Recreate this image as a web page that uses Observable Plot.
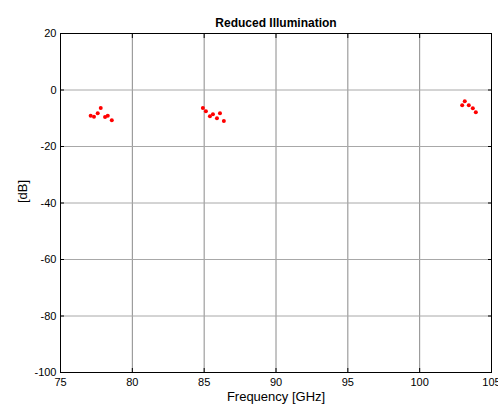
<!DOCTYPE html>
<html><head><meta charset="utf-8">
<script src="https://cdn.jsdelivr.net/npm/d3@7"></script>
<script src="https://cdn.jsdelivr.net/npm/@observablehq/plot@0.6"></script>
<style>body{margin:0;background:#fff}svg{display:block}</style>
</head><body><div id="chart"></div>
<script>
const freqGHz = [77.10, 77.33, 77.59, 77.80, 78.10, 78.29, 78.57,
                 84.91, 85.12, 85.40, 85.61, 85.89, 86.10, 86.37,
                 102.96, 103.14, 103.42, 103.70, 103.91];
const levelDb = [-9.1, -9.5, -8.2, -6.4, -9.6, -9.1, -10.7,
                 -6.4, -7.5, -9.3, -8.6, -10.0, -8.2, -11.0,
                 -5.4, -4.0, -5.4, -6.5, -7.9];
const xTicks = [75, 80, 85, 90, 95, 100, 105];
const yTicks = [20, 0, -20, -40, -60, -80, -100];
const title = "Reduced Illumination";
const xLabel = "Frequency [GHz]";
const yLabel = "[dB]";

const points = freqGHz.map((f, i) => ({f, v: levelDb[i]}));
const fmt = d => String(d);

const chart = Plot.plot({
  width: 498, height: 412,
  marginLeft: 60, marginRight: 7, marginTop: 33, marginBottom: 40,
  style: {fontFamily: "'Liberation Sans', Arial, sans-serif", fontSize: "11px", background: "#fff", color: "#000"},
  x: {domain: [75, 105]},
  y: {domain: [-100, 20]},
  marks: [
    Plot.ruleX(xTicks.slice(1, -1), {stroke: "#8a8a8a", strokeWidth: 1}),
    Plot.ruleY(yTicks.slice(1, -1), {stroke: "#a8a8a8", strokeWidth: 1}),
    Plot.axisX({ticks: xTicks, tickSize: -4, tickFormat: () => "", label: null}),
    Plot.axisX({ticks: xTicks, anchor: "top", tickSize: -4, tickFormat: () => "", label: null}),
    Plot.axisY({ticks: yTicks, tickSize: -4, tickFormat: () => "", label: null}),
    Plot.axisY({ticks: yTicks, anchor: "right", tickSize: -4, tickFormat: () => "", label: null}),
    Plot.axisX({ticks: xTicks, tickSize: 0, tickPadding: 6, tickFormat: fmt, label: null, fontSize: 11}),
    Plot.axisY({ticks: yTicks, tickSize: 0, tickPadding: 4, tickFormat: fmt, label: null, fontSize: 11}),
    Plot.frame({stroke: "#000", strokeWidth: 1}),
    Plot.dot(points, {x: "f", y: "v", r: 2, fill: "red", stroke: null}),
    Plot.text([title], {frameAnchor: "top", dy: -15, fontWeight: "bold", fontSize: 12}),
    Plot.text([xLabel], {frameAnchor: "bottom", dy: 28, fontSize: 13}),
    Plot.text([yLabel], {frameAnchor: "left", dx: -38, rotate: -90, fontSize: 13})
  ]
});
document.getElementById("chart").appendChild(chart);
</script>
</body></html>
